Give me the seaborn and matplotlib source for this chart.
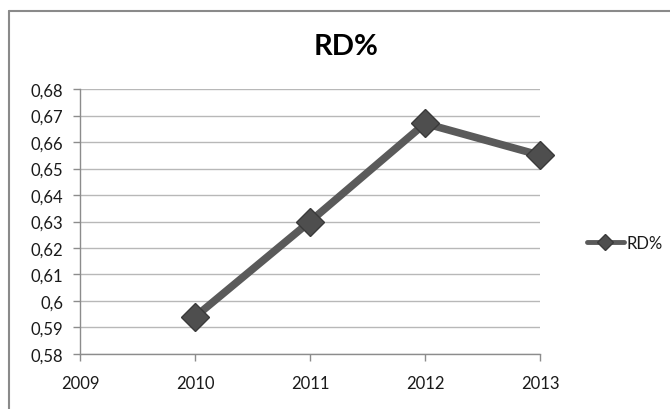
import matplotlib
matplotlib.use("Agg")
import matplotlib.pyplot as plt
import seaborn as sns
import pandas as pd
from matplotlib.lines import Line2D

# Data
years = [2010, 2011, 2012, 2013]
rd_values = [0.594, 0.630, 0.667, 0.655]
series_name = "RD%"
x_ticks = [2009, 2010, 2011, 2012, 2013]
y_ticks = [0.58, 0.59, 0.60, 0.61, 0.62, 0.63, 0.64, 0.65, 0.66, 0.67, 0.68]

sns.set_style("white")
plt.rcParams["font.family"] = ["Lato", "DejaVu Sans"]

fig = plt.figure(figsize=(6.7, 4.1), dpi=100)
ax = fig.add_axes([80 / 670, 55 / 410, 460 / 670, 265 / 410])

df = pd.DataFrame({"Year": years, series_name: rd_values})
sns.lineplot(
    data=df, x="Year", y=series_name, ax=ax,
    color="#5a5a5a", linewidth=5.5,
    marker="D", markersize=14,
    markerfacecolor="#4e4e4e", markeredgecolor="#3a3a3a", markeredgewidth=1,
    label=series_name, clip_on=False, zorder=3,
)
if ax.get_legend() is not None:
    ax.get_legend().remove()

ax.set_xlim(x_ticks[0], x_ticks[-1])
ax.set_ylim(y_ticks[0], y_ticks[-1])
ax.set_xticks(x_ticks)
ax.set_xticklabels([str(y) for y in x_ticks])
ax.set_yticks(y_ticks)
ax.set_yticklabels([f"{v:g}".replace(".", ",") for v in y_ticks])
ax.set_xlabel("")
ax.set_ylabel("")

ax.yaxis.grid(True, color="#b8b8b8", linewidth=1)
ax.xaxis.grid(False)
ax.set_axisbelow(True)
for side in ("top", "right"):
    ax.spines[side].set_visible(False)
for side in ("left", "bottom"):
    ax.spines[side].set_color("#8c8c8c")
    ax.spines[side].set_linewidth(1)

ax.tick_params(axis="y", left=True, direction="out", length=5, width=1,
               color="#8c8c8c", pad=7, labelsize=12, labelcolor="#1a1a1a")
ax.tick_params(axis="x", bottom=True, direction="out", length=5, width=1,
               color="#8c8c8c", pad=10, labelsize=12, labelcolor="#1a1a1a")

fig.text(346 / 670, 1 - 47 / 410, "RD%", ha="center", va="center",
         fontsize=21, fontweight="bold", color="#000000")

handles, labels = ax.get_legend_handles_labels()
leg = fig.legend(handles, labels, loc="center left",
                 bbox_to_anchor=(587 / 670, 1 - 244 / 410),
                 frameon=False, handlelength=2.2, handletextpad=0.2,
                 borderpad=0, borderaxespad=0, fontsize=12, markerscale=0.6,
                 labelcolor="#1a1a1a")
for h in leg.get_lines():
    h.set_linewidth(3.5)

# Chart area frame
frame_color = "#8a8a8a"
fig.add_artist(Line2D([9 / 670, 9 / 670], [0, 1 - 12 / 410],
                      transform=fig.transFigure, color=frame_color, lw=1.5))
fig.add_artist(Line2D([9 / 670, 1], [1 - 12 / 410, 1 - 12 / 410],
                      transform=fig.transFigure, color=frame_color, lw=1.5))

fig.savefig("out.png", dpi=100)
